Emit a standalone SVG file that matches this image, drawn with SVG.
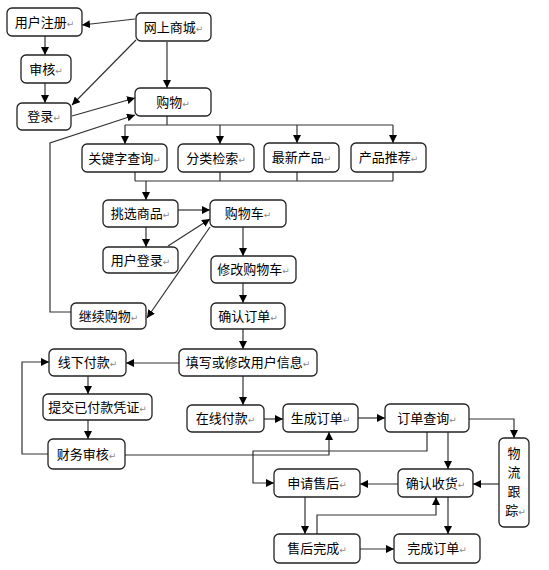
<svg xmlns="http://www.w3.org/2000/svg" width="549" height="570" viewBox="0 0 549 570">
<style>
.box{fill:#fff;stroke:#222;stroke-width:1.3}
.t{font-family:"Noto Sans CJK SC","Noto Sans CJK JP",sans-serif;font-size:13px;fill:#000;text-anchor:middle}
.m{font-family:"DejaVu Sans",sans-serif;font-size:9px;fill:#888}
.c{fill:none;stroke:#333;stroke-width:1.2}
</style>
<defs>
<marker id="a" viewBox="0 0 10 10" refX="10" refY="5" markerWidth="8" markerHeight="8" markerUnits="userSpaceOnUse" orient="auto">
<path d="M0,0 L10,5 L0,10 z" fill="#000"/>
</marker>
</defs>
<rect width="549" height="570" fill="#fff"/>
<g id="connectors">
<path class="c" d="M135,19 L82,25" marker-end="url(#a)"/>
<path class="c" d="M136,40 L72,105" marker-end="url(#a)"/>
<path class="c" d="M167,42 V88" marker-end="url(#a)"/>
<path class="c" d="M45,36 V55" marker-end="url(#a)"/>
<path class="c" d="M45,83 V103" marker-end="url(#a)"/>
<path class="c" d="M72,116 L135,98" marker-end="url(#a)"/>
<path class="c" d="M71,312 H50 V143 L135,115" marker-end="url(#a)"/>
<path class="c" d="M167,116 V125 M125,125 H393"/>
<path class="c" d="M125,125 V144" marker-end="url(#a)"/>
<path class="c" d="M220,125 V144" marker-end="url(#a)"/>
<path class="c" d="M297,125 V143" marker-end="url(#a)"/>
<path class="c" d="M393,125 V143" marker-end="url(#a)"/>
<path class="c" d="M135,172 V181 M220,172 V181 M297,172 V181 M393,172 V181 M135,181 H393"/>
<path class="c" d="M146,181 V200" marker-end="url(#a)"/>
<path class="c" d="M178,210 H210" marker-end="url(#a)"/>
<path class="c" d="M146,227 V247" marker-end="url(#a)"/>
<path class="c" d="M168,246 L210,219" marker-end="url(#a)"/>
<path class="c" d="M210,227 L147,318" marker-end="url(#a)"/>
<path class="c" d="M243,227 V256" marker-end="url(#a)"/>
<path class="c" d="M243,283 V303" marker-end="url(#a)"/>
<path class="c" d="M243,329 V349" marker-end="url(#a)"/>
<path class="c" d="M179,363 H126" marker-end="url(#a)"/>
<path class="c" d="M48,454 H22 V362 H49" marker-end="url(#a)"/>
<path class="c" d="M88,376 V394" marker-end="url(#a)"/>
<path class="c" d="M88,420 V439" marker-end="url(#a)"/>
<path class="c" d="M243,376 V405" marker-end="url(#a)"/>
<path class="c" d="M264,419 H283" marker-end="url(#a)"/>
<path class="c" d="M125,455 H329 V432" marker-end="url(#a)"/>
<path class="c" d="M358,418 H385" marker-end="url(#a)"/>
<path class="c" d="M469,419 H514 V438" marker-end="url(#a)"/>
<path class="c" d="M448,432 V469" marker-end="url(#a)"/>
<path class="c" d="M427,432 V451 H253 V483 H274" marker-end="url(#a)"/>
<path class="c" d="M499,484 H473" marker-end="url(#a)"/>
<path class="c" d="M398,484 H360" marker-end="url(#a)"/>
<path class="c" d="M305,497 V534" marker-end="url(#a)"/>
<path class="c" d="M317,534 V515 H436 V497" marker-end="url(#a)"/>
<path class="c" d="M448,497 V534" marker-end="url(#a)"/>
<path class="c" d="M360,549 H394" marker-end="url(#a)"/>
</g>
<g id="n-register"><rect class="box" x="7" y="8" width="75" height="28" rx="5"/><text class="t" x="44.5" y="26.5">用户注册<tspan class="m">↵</tspan></text></g>
<g id="n-mall"><rect class="box" x="136" y="13" width="75" height="28" rx="5"/><text class="t" x="173.5" y="31.5">网上商城<tspan class="m">↵</tspan></text></g>
<g id="n-audit"><rect class="box" x="21" y="55" width="50" height="28" rx="5"/><text class="t" x="46" y="73.5">审核<tspan class="m">↵</tspan></text></g>
<g id="n-login"><rect class="box" x="17" y="103" width="54" height="27" rx="5"/><text class="t" x="44" y="121">登录<tspan class="m">↵</tspan></text></g>
<g id="n-shop"><rect class="box" x="135" y="88" width="76" height="28" rx="5"/><text class="t" x="173" y="106.5">购物<tspan class="m">↵</tspan></text></g>
<g id="n-keyword"><rect class="box" x="82" y="144" width="85" height="28" rx="5"/><text class="t" x="124.5" y="162.5">关键字查询<tspan class="m">↵</tspan></text></g>
<g id="n-category"><rect class="box" x="178" y="144" width="76" height="28" rx="5"/><text class="t" x="216" y="162.5">分类检索<tspan class="m">↵</tspan></text></g>
<g id="n-new"><rect class="box" x="264" y="143" width="75" height="29" rx="5"/><text class="t" x="301.5" y="162">最新产品<tspan class="m">↵</tspan></text></g>
<g id="n-recommend"><rect class="box" x="351" y="143" width="75" height="29" rx="5"/><text class="t" x="388.5" y="162">产品推荐<tspan class="m">↵</tspan></text></g>
<g id="n-pick"><rect class="box" x="103" y="200" width="75" height="27" rx="5"/><text class="t" x="140.5" y="218">挑选商品<tspan class="m">↵</tspan></text></g>
<g id="n-cart"><rect class="box" x="210" y="200" width="76" height="27" rx="5"/><text class="t" x="248" y="218">购物车<tspan class="m">↵</tspan></text></g>
<g id="n-userlogin"><rect class="box" x="103" y="247" width="75" height="26" rx="5"/><text class="t" x="140.5" y="264.5">用户登录<tspan class="m">↵</tspan></text></g>
<g id="n-modifycart"><rect class="box" x="211" y="256" width="85" height="27" rx="5"/><text class="t" x="253.5" y="274">修改购物车<tspan class="m">↵</tspan></text></g>
<g id="n-continue"><rect class="box" x="71" y="303" width="75" height="26" rx="5"/><text class="t" x="108.5" y="320.5">继续购物<tspan class="m">↵</tspan></text></g>
<g id="n-confirm"><rect class="box" x="211" y="303" width="74" height="26" rx="5"/><text class="t" x="248" y="320.5">确认订单<tspan class="m">↵</tspan></text></g>
<g id="n-fill"><rect class="box" x="179" y="349" width="138" height="27" rx="5"/><text class="t" x="248" y="367">填写或修改用户信息<tspan class="m">↵</tspan></text></g>
<g id="n-offline"><rect class="box" x="49" y="349" width="77" height="27" rx="5"/><text class="t" x="87.5" y="367">线下付款<tspan class="m">↵</tspan></text></g>
<g id="n-voucher"><rect class="box" x="43" y="394" width="109" height="26" rx="5"/><text class="t" x="97.5" y="411.5">提交已付款凭证<tspan class="m">↵</tspan></text></g>
<g id="n-finance"><rect class="box" x="48" y="439" width="77" height="30" rx="5"/><text class="t" x="86.5" y="458.5">财务审核<tspan class="m">↵</tspan></text></g>
<g id="n-online"><rect class="box" x="187" y="405" width="77" height="27" rx="5"/><text class="t" x="225.5" y="423">在线付款<tspan class="m">↵</tspan></text></g>
<g id="n-genorder"><rect class="box" x="283" y="404" width="75" height="28" rx="5"/><text class="t" x="320.5" y="422.5">生成订单<tspan class="m">↵</tspan></text></g>
<g id="n-query"><rect class="box" x="385" y="404" width="84" height="28" rx="5"/><text class="t" x="427" y="422.5">订单查询<tspan class="m">↵</tspan></text></g>
<g id="n-logistics"><rect class="box" x="499" y="438" width="30" height="89" rx="5"/><text class="t" x="514" y="458">物</text><text class="t" x="514" y="477">流</text><text class="t" x="514" y="496">跟</text><text class="t" x="515.5" y="515">踪<tspan class="m">↵</tspan></text></g>
<g id="n-receive"><rect class="box" x="398" y="469" width="75" height="28" rx="5"/><text class="t" x="435.5" y="487.5">确认收货<tspan class="m">↵</tspan></text></g>
<g id="n-aftersale"><rect class="box" x="274" y="469" width="86" height="28" rx="5"/><text class="t" x="317" y="487.5">申请售后<tspan class="m">↵</tspan></text></g>
<g id="n-afterdone"><rect class="box" x="274" y="534" width="86" height="29" rx="5"/><text class="t" x="317" y="553">售后完成<tspan class="m">↵</tspan></text></g>
<g id="n-done"><rect class="box" x="394" y="534" width="86" height="29" rx="5"/><text class="t" x="437" y="553">完成订单<tspan class="m">↵</tspan></text></g>
</svg>
